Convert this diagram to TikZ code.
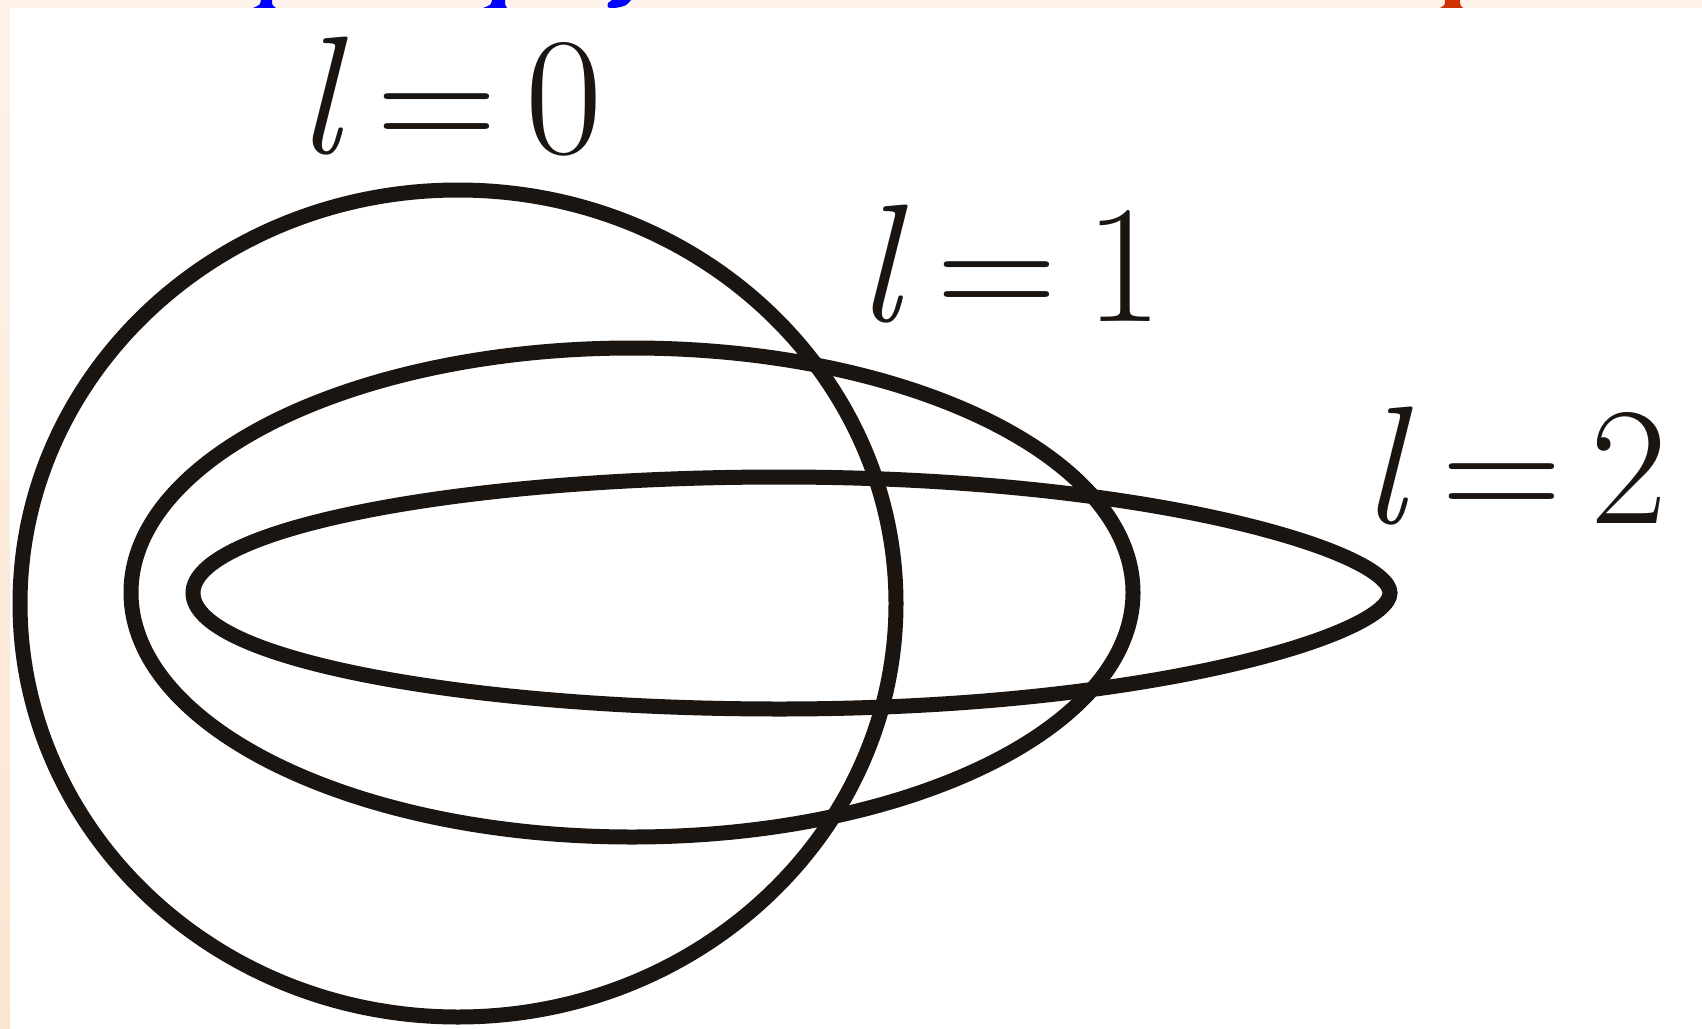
\documentclass[tikz,border=0pt]{standalone}
\definecolor{bgbeige}{HTML}{FDF3EA}
\definecolor{bgpeach}{HTML}{FCE5D0}
\definecolor{inkc}{HTML}{1B1512}
\definecolor{titleblue}{HTML}{0000FF}
\definecolor{titlered}{HTML}{CC3300}
\begin{document}
\begin{tikzpicture}[x=0.5pt,y=-0.5pt,
  orbit/.style={draw=inkc,line width=7.5pt},
  lbl/.style={anchor=base west,inner sep=0pt,text=inkc,font=\fontsize{84}{100}\selectfont}]
\useasboundingbox (0,0) rectangle (1702,1028);
% page background
\fill[bgbeige] (0,0) rectangle (1702,1028);
\shade[top color=bgbeige,bottom color=bgpeach] (0,0) rectangle (10,1028);
% cut-off title glyph bits
\fill[titleblue,shift={(266,0)}] (-5,0) -- (6,0) .. controls (6,5) .. (10,8) -- (-13,8) .. controls (-6,5) .. (-5,0) -- cycle;
\fill[titleblue,shift={(497,0)}] (-5,0) -- (8,0) .. controls (8,5) .. (10,8) -- (-14,8) .. controls (-6,5) .. (-5,0) -- cycle;
\fill[titleblue] (631,0) .. controls (626,6) .. (615,8) .. controls (607,8) .. (608,3) -- (612,0) -- cycle;
\fill[titlered,shift={(1452,0)}] (-7,0) -- (8,0) .. controls (8,5) .. (11,8) -- (-12,8) .. controls (-7,5) .. (-7,0) -- cycle;
% white panel
\fill[white] (10,8) rectangle (1702,1028);
% orbitals
\draw[orbit] (458,603.5) ellipse [x radius=438, y radius=413.5];
\draw[orbit] (632,592.5) ellipse [x radius=501, y radius=244.5];
\draw[orbit] (193,593) .. controls (193,529) and (456,477) .. (780,477)
  .. controls (1150,477) and (1390,552) .. (1390,593)
  .. controls (1390,634) and (1150,709) .. (780,709)
  .. controls (456,709) and (193,657) .. cycle;
% labels
\node[lbl] (L0) at (297,153) {\textit{l}\hspace{0.17em}=\hspace{0.17em}0};
\node[lbl] (L1) at (857,321) {\textit{l}\hspace{0.17em}=\hspace{0.17em}1};
\node[lbl] (L2) at (1362,523) {\textit{l}\hspace{0.17em}=\hspace{0.17em}2};
\end{tikzpicture}
\end{document}
